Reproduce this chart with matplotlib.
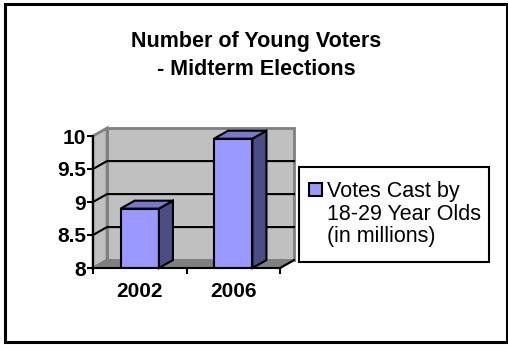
import matplotlib.pyplot as plt
from matplotlib.patches import Polygon, Rectangle

plt.rcParams['font.family'] = ['Liberation Sans', 'DejaVu Sans']

years = ['2002', '2006']
votes = [8.9, 9.96]
y_ticks = [8, 8.5, 9, 9.5, 10]
y_tick_labels = ['8', '8.5', '9', '9.5', '10']
series_label = 'Votes Cast by\n18-29 Year Olds\n(in millions)'
title = 'Number of Young Voters\n- Midterm Elections'

W, H = 508, 345
fig = plt.figure(figsize=(W / 100, H / 100), dpi=100)


def px_rect(x0, y0, x1, y1):
    # pixel box measured from the top-left corner -> figure fractions
    return [x0 / W, 1 - y1 / H, (x1 - x0) / W, (y1 - y0) / H]


ax = fig.add_axes(px_rect(93, 136, 280, 268))
ax.set_xlim(-0.5, 1.5)
ax.set_ylim(8, 10)
ax.patch.set_visible(False)

# depth of the 3-D box in data units
ddx, ddy = 0.15, 0.12
x0, x1 = -0.5, 1.5
y0, y1 = 8, 10

wall_color = '#c0c0c0'
floor_color = '#808080'
edge_gray = '#808080'

ax.add_patch(Polygon([(x0 + ddx, y0 + ddy), (x1 + ddx, y0 + ddy),
                      (x1 + ddx, y1 + ddy), (x0 + ddx, y1 + ddy)],
                     fc=wall_color, ec=edge_gray, lw=2, clip_on=False, zorder=0.5))
ax.add_patch(Polygon([(x0, y0), (x0 + ddx, y0 + ddy), (x0 + ddx, y1 + ddy), (x0, y1)],
                     fc=wall_color, ec=edge_gray, lw=2, clip_on=False, zorder=0.6))
ax.add_patch(Polygon([(x0, y0), (x1, y0), (x1 + ddx, y0 + ddy), (x0 + ddx, y0 + ddy)],
                     fc=floor_color, ec=edge_gray, lw=1.5, clip_on=False, zorder=0.7))
ax.plot([x1, x1 + ddx], [y0, y0 + ddy], color='black', lw=1.5, clip_on=False, zorder=0.8)

# gridlines run across the side wall and the back wall
for v in y_ticks[1:-1]:
    ax.plot([x0, x0 + ddx, x1 + ddx], [v, v + ddy, v + ddy],
            color='black', lw=1.5, clip_on=False, zorder=1)

bar_w = 0.41
face = '#9999ff'
side = '#4d4d85'
top = '#7979cc'
xs = list(range(len(years)))
ax.bar(xs, [v - y0 for v in votes], bottom=y0, width=bar_w,
       color=face, edgecolor='black', lw=1.5, zorder=3)
for x, v in zip(xs, votes):
    l, r = x - bar_w / 2, x + bar_w / 2
    ax.add_patch(Polygon([(r, y0), (r + ddx, y0 + ddy), (r + ddx, v + ddy), (r, v)],
                         fc=side, ec='black', lw=1.5, clip_on=False, zorder=3))
    ax.add_patch(Polygon([(l, v), (l + ddx, v + ddy), (r + ddx, v + ddy), (r, v)],
                         fc=top, ec='black', lw=1.5, clip_on=False, zorder=3))

for s in ['top', 'right']:
    ax.spines[s].set_visible(False)
for s in ['left', 'bottom']:
    ax.spines[s].set_linewidth(1.5)
    ax.spines[s].set_zorder(4)

ax.set_yticks(y_ticks, y_tick_labels, fontsize=15, fontweight='bold')
ax.tick_params(axis='y', length=4, width=1.5, pad=1)
ax.set_xticks([-0.5, 0.5, 1.5], ['', '', ''])
ax.tick_params(axis='x', which='major', length=4, width=1.5)
ax.set_xticks(xs, years, minor=True, fontsize=15, fontweight='bold')
ax.tick_params(axis='x', which='minor', length=0, pad=10)

# title, one baseline per line
for line, base in zip(title.split('\n'), [46.5, 75]):
    fig.text(256.5 / W, 1 - base / H, line, ha='center', va='baseline',
             fontsize=15.5, fontweight='bold')

# legend box
fig.patches.append(Rectangle((299 / W, 1 - 262 / H), 190 / W, 95 / H,
                             transform=fig.transFigure, fill=False,
                             ec='black', lw=1.5))
fig.patches.append(Rectangle((309 / W, 1 - 196 / H), 13 / W, 13 / H,
                             transform=fig.transFigure, fc=face,
                             ec='black', lw=1.5))
for line, base in zip(series_label.split('\n'), [196.5, 219.5, 242]):
    fig.text(327 / W, 1 - base / H, line, ha='left', va='baseline', fontsize=15.5)

# chart border
fig.patches.append(Rectangle((4.5 / W, 3.5 / H), 502 / W, 338 / H,
                             transform=fig.transFigure, fill=False,
                             ec='black', lw=2.2))

fig.savefig('out.png', dpi=100)
